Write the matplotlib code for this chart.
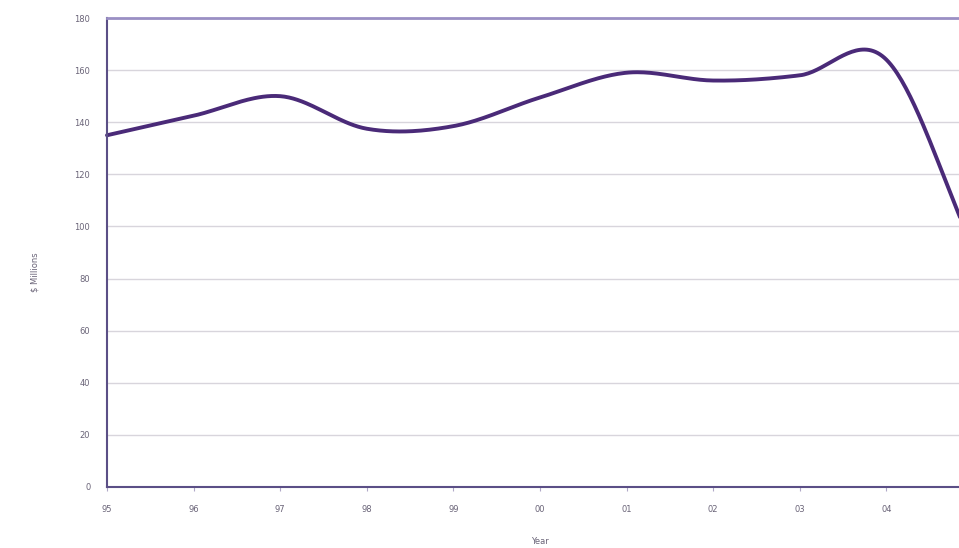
import numpy as np
import matplotlib.pyplot as plt

years = ['95', '96', '97', '98', '99', '00', '01', '02', '03', '04', '05']
values = [135, 142.5, 150, 137.5, 138.5, 149.5, 159, 156, 158, 164, 92]
y_ticks = [0, 20, 40, 60, 80, 100, 120, 140, 160, 180]


def catmull_rom(y, steps=40):
    # smoothed line through every point (Hermite segments, Catmull-Rom tangents)
    y = np.asarray(y, dtype=float)
    n = len(y)
    m = np.zeros(n)
    m[1:-1] = (y[2:] - y[:-2]) / 2
    m[0] = y[1] - y[0]
    m[-1] = y[-1] - y[-2]
    xs, ys = [], []
    for i in range(n - 1):
        t = np.linspace(0, 1, steps, endpoint=False)
        h00 = 2 * t**3 - 3 * t**2 + 1
        h10 = t**3 - 2 * t**2 + t
        h01 = -2 * t**3 + 3 * t**2
        h11 = t**3 - t**2
        xs.append(i + t)
        ys.append(h00 * y[i] + h10 * m[i] + h01 * y[i + 1] + h11 * m[i + 1])
    xs.append([n - 1])
    ys.append([y[-1]])
    return np.concatenate(xs), np.concatenate(ys)


fig = plt.figure(figsize=(9.59, 5.48), dpi=100)
# axes run past the right edge, so the last year is clipped
ax = fig.add_axes([107 / 959, 1 - 487 / 548, (973 - 107) / 959, (487 - 18) / 548])

sx, sy = catmull_rom(values)
ax.plot(sx, sy, color='#4a2a78', lw=2.8, solid_capstyle='round', clip_on=False)

ax.set_xlim(0, len(years) - 1)
ax.set_ylim(0, 180)
# the 05 label falls outside the figure, so only 95-04 get labels
ax.set_xticks(range(len(years) - 1))
ax.set_xticklabels(years[:-1])
ax.set_yticks(y_ticks)
ax.grid(axis='y', color='#d8d5dc', lw=1)
ax.set_axisbelow(True)

for side in ['left', 'bottom']:
    ax.spines[side].set_color('#5b4f86')
    ax.spines[side].set_linewidth(1.5)
ax.spines['top'].set_color('#9a8fc4')
ax.spines['top'].set_linewidth(2)
ax.spines['right'].set_visible(False)

ax.tick_params(axis='both', labelsize=6, labelcolor='#6a6478', color='#b0a8c8', length=3)
ax.tick_params(axis='x', pad=10)
ax.tick_params(axis='y', length=0, pad=12)

fig.text(35 / 959, 1 - 272 / 548, '$ Millions', rotation=90, fontsize=6,
         color='#6a6478', ha='center', va='center')
fig.text(540 / 959, 1 - 542 / 548, 'Year', fontsize=6, color='#6a6478',
         ha='center', va='center')

fig.savefig('out.png', dpi=100)
